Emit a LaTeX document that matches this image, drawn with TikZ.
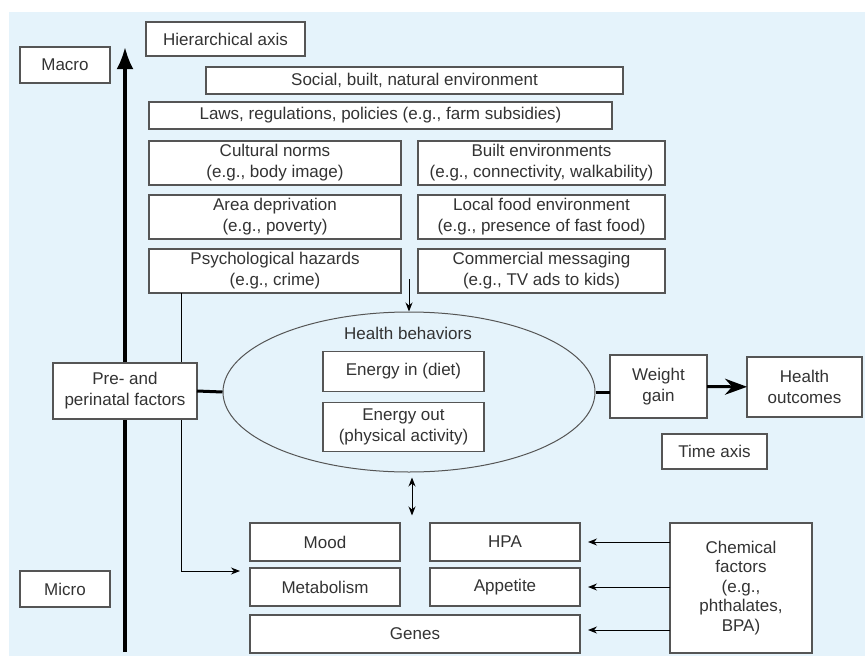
\documentclass[tikz,border=0pt]{standalone}
\usepackage{fontspec}
\setmainfont{Liberation Sans}
\usetikzlibrary{arrows.meta,positioning,shapes.geometric}
\definecolor{panelblue}{HTML}{E5F3FB}
\definecolor{edgegray}{HTML}{555555}
\definecolor{inkgray}{HTML}{333333}
\tikzset{
  box/.style={
    draw=edgegray,fill=white,line width=1.2pt,rectangle,
    align=center,inner sep=0pt,outer sep=0pt
  },
  axisline/.style={-{Latex[length=22pt,width=17pt]},line width=3.5pt},
  link/.style={line width=3pt},
  flow/.style={-{Stealth[length=9pt,width=7pt]},line width=1pt}
}

\begin{document}
\begin{tikzpicture}[x=1pt,y=-1pt,node distance=10pt,
  font=\fontsize{17}{21}\selectfont,text=inkgray]

\useasboundingbox (0,0) rectangle (865,656);
\fill[panelblue] (9,12) rectangle (865,656);

\coordinate (axisbot) at (125,652);
\coordinate (axistop) at (125,47);
\draw[axisline] (axisbot) -- (axistop);

\node[box,minimum width=90pt,minimum height=36pt] (macro) at (65,65) {Macro};

\node[box,minimum width=90pt,minimum height=36pt] (micro) at (65,589) {Micro};

\node[box,minimum width=159pt,minimum height=34pt] (hier) at (225.5,39) {Hierarchical axis};

\node[box,minimum width=417pt,minimum height=27pt] (social) at (414.5,80.5) {Social, built, natural environment};

\node[box,minimum width=463pt,minimum height=27pt] (laws) at (380.5,115.5) {Laws, regulations, policies (e.g., farm subsidies)};

\node[box,minimum width=252pt,minimum height=44pt] (cult) at (275,163) {
Cultural norms\\
(e.g., body image)
};

\node[box,minimum width=252pt,minimum height=44pt,below=of cult] (area) {
Area deprivation\\
(e.g., poverty)
};

\node[box,minimum width=252pt,minimum height=44pt,below=of area] (psych) {
Psychological hazards\\
(e.g., crime)
};

\node[box,minimum width=247pt,minimum height=44pt,right=17pt of cult] (built) {
Built environments\\
(e.g., connectivity, walkability)
};

\node[box,minimum width=247pt,minimum height=44pt,right=17pt of area] (food) {
Local food environment\\
(e.g., presence of fast food)
};

\node[box,minimum width=247pt,minimum height=44pt,right=17pt of psych] (comm) {
Commercial messaging\\
(e.g., TV ads to kids)
};

\node[draw=edgegray,line width=1pt,ellipse,minimum width=372pt,minimum height=160pt] (health) at (409,392) {};
\node (hbtitle) at (408,333) {Health behaviors};

\node[box,minimum width=161pt,minimum height=40pt] (ein) at (403.5,371.5) {Energy in (diet)};

\node[box,minimum width=161pt,minimum height=49pt,below=11pt of ein] (eout) {
Energy out\\
(physical activity)
};

\node[box,minimum width=150pt,minimum height=38pt] (mood) at (325,542) {Mood};

\node[box,minimum width=150pt,minimum height=38pt,below=7pt of mood] (metab) {Metabolism};

\node[box,minimum width=150pt,minimum height=38pt,right=30pt of mood] (hpa) {HPA};

\node[box,minimum width=150pt,minimum height=38pt,right=30pt of metab] (appet) {Appetite};

\node[box,minimum width=330pt,minimum height=38pt] (genes) at (415,634) {Genes};

\draw[flow] ([xshift=-94pt]psych.south) |- ([xshift=-10pt,yshift=-3pt]metab.north west);

\node[box,minimum width=144pt,minimum height=56pt] (peri) at (125,391) {
Pre- and\\
perinatal factors
};

\node[box,minimum width=97pt,minimum height=63pt] (wgain) at (658.5,386.5) {
Weight\\
gain
};

\node[box,minimum width=115pt,minimum height=60pt] (outc) at (804.5,387) {
Health\\
outcomes
};

\node[box,minimum width=105pt,minimum height=35pt] (time) at (714.5,451.5) {Time axis};

\node[box,minimum width=142pt,minimum height=130pt,
  font=\fontsize{17}{19.5}\selectfont] (chem) at (741,588) {
Chemical\\
factors\\
(e.g.,\\
phthalates,\\
BPA)
};

\coordinate (msgin) at (409,279);
\draw[flow] (msgin) -- (health.north);
\draw[{Stealth[length=9pt,width=7pt]}-{Stealth[length=9pt,width=7pt]},line width=1pt]
  ([xshift=3pt,yshift=-5pt]health.south) -- ++(0,38);

\draw[link] (peri.east) -- (health.west);
\draw[link] (health.east) -- (health.east -| wgain.west);
\draw[link,-{Stealth[length=22pt,width=16pt]}] (wgain) -- (outc);

\draw[flow] (chem.west |- hpa) -- ([xshift=8pt]hpa.east);
\draw[flow] (chem.west |- appet) -- ([xshift=8pt]appet.east);
\draw[flow] ([yshift=4pt]chem.west |- genes) -- ([xshift=8pt,yshift=4pt]genes.east);

\end{tikzpicture}
\end{document}
